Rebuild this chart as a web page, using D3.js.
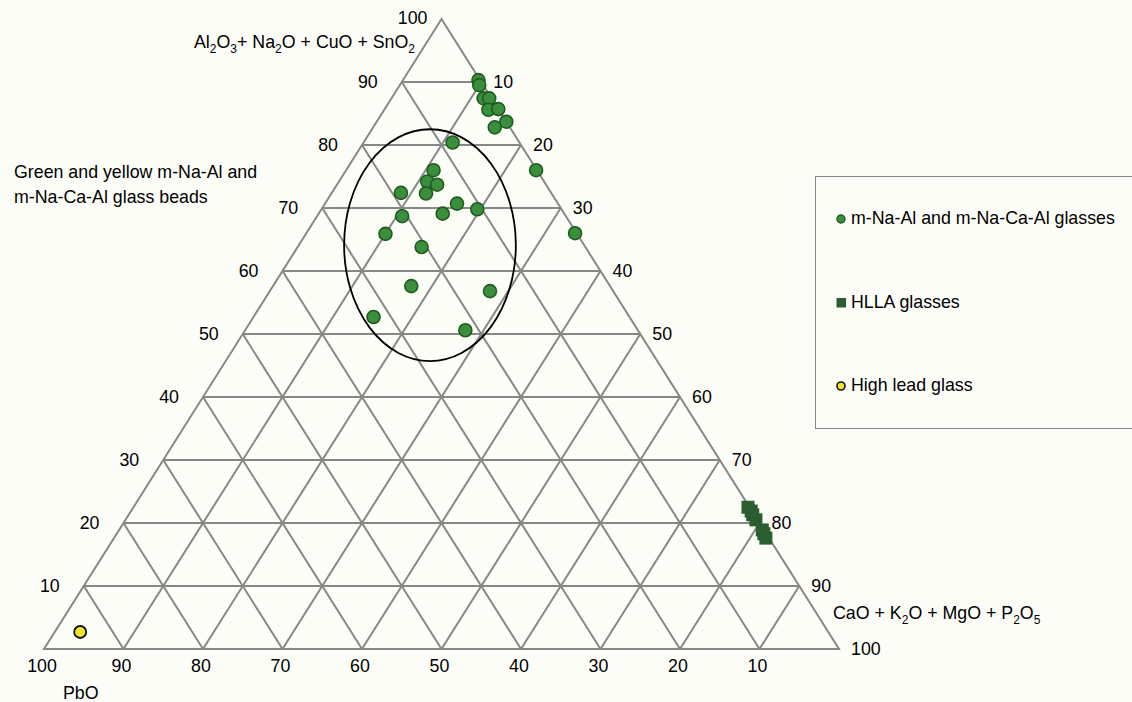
<!DOCTYPE html>
<html>
<head>
<meta charset="utf-8">
<script src="https://cdn.jsdelivr.net/npm/d3@7"></script>
<style>
  body { margin: 0; background: #fdfdf8; }
  svg { display: block; font-family: "Liberation Sans", Arial, sans-serif; }
  .tick { font-size: 17.8px; fill: #000; }
</style>
</head>
<body>
<div id="chart"></div>
<script>
// ternary values in % : Al2O3+Na2O+CuO+SnO2 (top), CaO+K2O+MgO+P2O5 (right), PbO (left)
const glassAl = [90.3, 89.5, 87.4, 87.4, 85.6, 85.7, 83.7, 82.8, 80.4, 76.0, 66.0, 76.0, 74.2,
                 73.7, 72.3, 72.4, 70.7, 69.1, 69.8, 68.7, 65.9, 63.8, 57.6, 56.8, 52.7, 50.6];
const glassCa = [9.5, 10.0, 11.6, 12.3, 13.1, 14.3, 16.3, 15.3, 11.2, 23.9, 33.8, 11.0, 11.1,
                 12.6, 11.9, 8.7, 16.6, 15.6, 19.6, 10.7, 10.0, 15.6, 17.4, 27.7, 15.1, 27.7];
const glassPb = [0.2, 0.5, 1.0, 0.3, 1.3, 0.0, 0.0, 1.9, 8.4, 0.1, 0.2, 13.0, 14.7,
                 13.7, 15.8, 18.9, 12.7, 15.3, 10.6, 20.6, 24.1, 20.6, 25.0, 15.5, 32.2, 21.7];

const hllaAl = [22.5, 21.9, 21.3, 20.5, 18.9, 18.3, 17.6];
const hllaCa = [77.3, 78.0, 78.5, 79.3, 80.9, 81.4, 82.0];
const hllaPb = [0.2, 0.1, 0.2, 0.2, 0.2, 0.3, 0.4];

const leadAl = [2.7];
const leadCa = [3.2];
const leadPb = [94.1];

const gridTicks = [10, 20, 30, 40, 50, 60, 70, 80, 90];
const labelTicks = [10, 20, 30, 40, 50, 60, 70, 80, 90, 100];

// ellipse round the m-Na-Al group (centre in %, radii in % of the axes)
const ringCentre = {al: 64.1, ca: 16.5, pb: 19.4};
const ringRadius = {x: 10.8, y: 18.4};

const width = 1132, height = 702;

const svg = d3.select("#chart").append("svg")
    .attr("width", width)
    .attr("height", height);

svg.append("rect").attr("width", width).attr("height", height).attr("fill", "#fdfdf8");

// horizontal position runs along the base, vertical is the top component
const x = d3.scaleLinear().domain([0, 100]).range([44, 839]);
const y = d3.scaleLinear().domain([0, 100]).range([649, 19]);

function project(al, ca, pb) {
    const s = al + ca + pb;
    const a = al / s * 100, c = ca / s * 100;
    return [x(c + a / 2), y(a)];
}

const line = d3.line();
const gridColor = "#878787";

// triangle frame
svg.append("path")
    .attr("d", line([project(100, 0, 0), project(0, 100, 0), project(0, 0, 100)]) + "Z")
    .attr("fill", "none")
    .attr("stroke", gridColor)
    .attr("stroke-width", 2);

// grid lines parallel to each side
const grid = svg.append("g").attr("fill", "none").attr("stroke", gridColor).attr("stroke-width", 2);
gridTicks.forEach(v => {
    grid.append("path").attr("d", line([project(v, 0, 100 - v), project(v, 100 - v, 0)]));
    grid.append("path").attr("d", line([project(0, v, 100 - v), project(100 - v, v, 0)]));
    grid.append("path").attr("d", line([project(0, 100 - v, v), project(100 - v, 0, v)]));
});

// tick labels
const labels = svg.append("g").attr("class", "tick");

labels.selectAll(".left").data(gridTicks).join("text")
    .attr("x", d => project(d, 0, 100 - d)[0] - 24)
    .attr("y", d => project(d, 0, 100 - d)[1])
    .attr("dy", "0.35em")
    .attr("text-anchor", "end")
    .text(d => d);

labels.append("text")
    .attr("x", project(100, 0, 0)[0] - 14)
    .attr("y", project(100, 0, 0)[1] - 1)
    .attr("dy", "0.35em")
    .attr("text-anchor", "end")
    .text("100");

labels.selectAll(".right").data(labelTicks).join("text")
    .attr("x", d => project(100 - d, d, 0)[0] + 12)
    .attr("y", d => project(100 - d, d, 0)[1])
    .attr("dy", "0.35em")
    .text(d => d);

labels.selectAll(".bottom").data(labelTicks).join("text")
    .attr("x", d => project(0, 100 - d, d)[0] - 2)
    .attr("y", d => project(0, 100 - d, d)[1] + 23)
    .attr("text-anchor", "middle")
    .text(d => d);

// axis titles with subscripts
function chemTitle(tx, ty, parts) {
    const t = svg.append("text").attr("x", tx).attr("y", ty).attr("class", "tick");
    parts.forEach(p => {
        if (p.sub) {
            t.append("tspan").attr("dy", 5).attr("font-size", 12).text(p.sub);
        } else {
            t.append("tspan").attr("dy", p.after ? -5 : 0).text(p.txt);
        }
    });
}

chemTitle(194, 48, [
    {txt: "Al"}, {sub: "2"}, {txt: "O", after: true}, {sub: "3"},
    {txt: "+ Na", after: true}, {sub: "2"}, {txt: "O + CuO + SnO", after: true}, {sub: "2"}
]);

chemTitle(833, 619, [
    {txt: "CaO + K"}, {sub: "2"}, {txt: "O + MgO + P", after: true}, {sub: "2"},
    {txt: "O", after: true}, {sub: "5"}
]);

svg.append("text").attr("class", "tick").attr("x", 63).attr("y", 699).text("PbO");

const note = svg.append("text").attr("class", "tick").attr("x", 14).attr("y", 178);
note.append("tspan").attr("x", 14).text("Green and yellow m-Na-Al and");
note.append("tspan").attr("x", 14).attr("dy", 25).text("m-Na-Ca-Al glass beads");

// ellipse annotation
const rc = project(ringCentre.al, ringCentre.ca, ringCentre.pb);
svg.append("ellipse")
    .attr("cx", rc[0])
    .attr("cy", rc[1])
    .attr("rx", x(ringRadius.x) - x(0))
    .attr("ry", y(0) - y(ringRadius.y))
    .attr("fill", "none")
    .attr("stroke", "#000")
    .attr("stroke-width", 1.8);

// points
svg.append("g").selectAll("circle").data(glassAl.map((a, i) => project(a, glassCa[i], glassPb[i])))
    .join("circle")
    .attr("cx", d => d[0])
    .attr("cy", d => d[1])
    .attr("r", 6.5)
    .attr("fill", "#3b8e3b")
    .attr("stroke", "#1f5c20")
    .attr("stroke-width", 1.6);

svg.append("g").selectAll("rect").data(hllaAl.map((a, i) => project(a, hllaCa[i], hllaPb[i])))
    .join("rect")
    .attr("x", d => d[0] - 6.5)
    .attr("y", d => d[1] - 6.5)
    .attr("width", 13)
    .attr("height", 13)
    .attr("fill", "#2a5e31");

svg.append("g").selectAll("circle").data(leadAl.map((a, i) => project(a, leadCa[i], leadPb[i])))
    .join("circle")
    .attr("cx", d => d[0])
    .attr("cy", d => d[1])
    .attr("r", 6)
    .attr("fill", "#f0e630")
    .attr("stroke", "#111")
    .attr("stroke-width", 1.8);

// legend
const legend = svg.append("g");
legend.append("rect")
    .attr("x", 815.5).attr("y", 176.5)
    .attr("width", 330).attr("height", 252)
    .attr("fill", "none")
    .attr("stroke", "#888")
    .attr("stroke-width", 1);

legend.append("circle").attr("cx", 841).attr("cy", 219).attr("r", 4)
    .attr("fill", "#3b8e3b").attr("stroke", "#1f5c20").attr("stroke-width", 1.4);
legend.append("text").attr("class", "tick").attr("x", 851).attr("y", 224)
    .text("m-Na-Al and m-Na-Ca-Al glasses");

legend.append("rect").attr("x", 836.5).attr("y", 298).attr("width", 9.5).attr("height", 9.5)
    .attr("fill", "#2a5e31");
legend.append("text").attr("class", "tick").attr("x", 851).attr("y", 308)
    .text("HLLA glasses");

legend.append("circle").attr("cx", 841).attr("cy", 386).attr("r", 4)
    .attr("fill", "#f0e630").attr("stroke", "#111").attr("stroke-width", 1.6);
legend.append("text").attr("class", "tick").attr("x", 851).attr("y", 391)
    .text("High lead glass");
</script>
</body>
</html>
